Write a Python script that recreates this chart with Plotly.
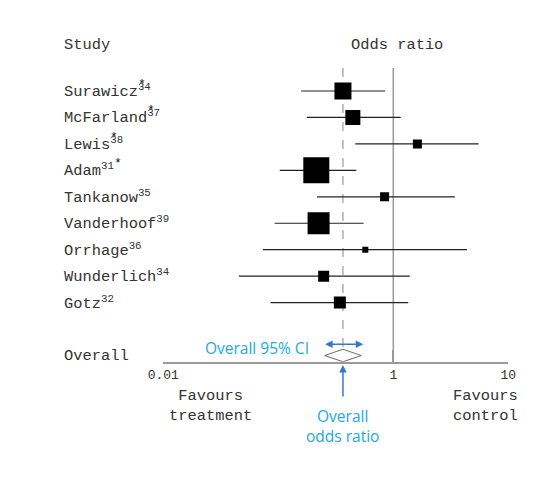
import numpy as np
import plotly.graph_objects as go

# study data
studies = ["Surawicz", "McFarland", "Lewis", "Adam", "Tankanow",
           "Vanderhoof", "Orrhage", "Wunderlich", "Gotz"]
refs = ["34", "37", "38", "31", "35", "39", "36", "34", "32"]
odds_ratio = [0.365, 0.445, 1.62, 0.214, 0.84, 0.224, 0.571, 0.248, 0.343]
ci_low = [0.158, 0.177, 0.467, 0.103, 0.217, 0.093, 0.0735, 0.0454, 0.0857]
ci_high = [0.85, 1.16, 5.52, 0.477, 3.43, 0.552, 4.37, 1.39, 1.35]
weight_px = [17, 15, 9, 26, 9, 22, 6, 11, 12]

overall_or = 0.365
overall_low = 0.253
overall_high = 0.527

tick_vals = [0.01, 1, 10]
tick_text = ["0.01", "1", "10"]

MONO = "Liberation Mono, Courier New, monospace"
SANS = "Open Sans, Noto Sans, sans-serif"
TXT = "#333333"
GREY = "#9a9a9a"
BLUE_TXT = "#22a7ea"
BLUE_ARR = "#3478c6"

# page offset (body margin) that the browser adds
OFF = 8


def px_x(x):
    return (x - OFF) / 540


def px_y(y):
    return 1 - (y - OFF) / 480


rows = list(range(len(studies)))
overall_row = 10
top_row = -0.87
axis_row = 10.235
half_h = 0.235
row_h = 26.45
row0_px = 91 - OFF
plot_bottom_px = 361.7 - OFF

fig = go.Figure()

# line of no effect
fig.add_trace(go.Scatter(x=[1, 1], y=[top_row, axis_row], mode="lines",
                         line=dict(color=GREY, width=1.5), hoverinfo="skip"))
# dashed line at the overall estimate
fig.add_trace(go.Scatter(x=[overall_or, overall_or], y=[top_row, overall_row - half_h],
                         mode="lines", line=dict(color=GREY, width=1.2, dash="dash"),
                         hoverinfo="skip"))

# study estimates with CIs
fig.add_trace(go.Scatter(
    x=odds_ratio, y=rows, mode="markers",
    marker=dict(symbol="square", size=weight_px, color="black", opacity=1,
                line=dict(width=0)),
    error_x=dict(type="data", symmetric=False,
                 array=[h - o for h, o in zip(ci_high, odds_ratio)],
                 arrayminus=[o - l for o, l in zip(odds_ratio, ci_low)],
                 color="#222222", thickness=1.2, width=0),
))

# overall diamond
fig.add_trace(go.Scatter(
    x=[overall_low, overall_or, overall_high, overall_or, overall_low],
    y=[overall_row, overall_row - half_h, overall_row, overall_row + half_h, overall_row],
    mode="lines", fill="toself", fillcolor="white",
    line=dict(color="#777777", width=1.2), hoverinfo="skip",
))

annotations = []


def label(text, x, y, xref="paper", yref="y", size=15.4, anchor="left", color=TXT, font=MONO):
    annotations.append(dict(text=text, x=x, y=y, xref=xref, yref=yref, showarrow=False,
                            xanchor=anchor, yanchor="middle",
                            font=dict(family=font, size=size, color=color)))


label("Study", px_x(62), -1.74)
label("Odds ratio", px_x(397), -1.74, anchor="center")
for r, (name, ref) in enumerate(zip(studies, refs)):
    label(f"{name}<sup>{ref}</sup>", px_x(62), r)
label("Overall", px_x(62), overall_row)

# stars marking some references (drawn over the reference numbers)
for sx, r in [(142, 0), (151, 1), (114, 2), (118, 3)]:
    label("*", px_x(sx), r - 0.25, size=13, anchor="center", color="#111111")

# labels under the axis
label("Favours<br>treatment", px_x(210), px_y(406), yref="paper", anchor="center")
label("Favours<br>control", px_x(485), px_y(406), yref="paper", anchor="center")

# blue callouts
label("Overall 95% CI", px_x(257), 9.7, anchor="center", size=15.5, color=BLUE_TXT, font=SANS)
annotations.append(dict(text="Overall<br>odds ratio", x=np.log10(overall_or), y=px_y(426),
                        xref="x", yref="paper", showarrow=False, xanchor="center",
                        yanchor="middle", font=dict(family=SANS, size=15.5, color=BLUE_TXT)))
annotations.append(dict(text="", x=np.log10(overall_or), y=px_y(365), xref="x",
                        yref="paper", ax=0, ay=33, showarrow=True, arrowhead=2,
                        arrowsize=1, arrowwidth=1.5, arrowcolor=BLUE_ARR))
annotations.append(dict(text="", x=np.log10(overall_high * 1.04), y=9.57,
                        ax=np.log10(overall_low * 0.98), ay=9.57,
                        xref="x", yref="y", axref="x", ayref="y",
                        showarrow=True, arrowhead=2, arrowside="end+start",
                        arrowsize=1, arrowwidth=1.5, arrowcolor=BLUE_ARR))

fig.update_layout(
    width=540, height=480,
    margin=dict(l=0, r=0, t=0, b=0, autoexpand=False),
    plot_bgcolor="white", paper_bgcolor="white",
    showlegend=False,
    annotations=annotations,
    xaxis=dict(type="log", range=[-2, 1], domain=[px_x(163.3), px_x(508.3)],
               automargin=False,
               showgrid=False, zeroline=False, showline=True, linecolor=GREY, linewidth=1.5,
               ticks="inside", ticklen=12, tickcolor=GREY, tickwidth=1.5,
               tickvals=tick_vals, ticktext=tick_text,
               tickfont=dict(family=MONO, size=13, color=TXT)),
    yaxis=dict(range=[(plot_bottom_px - row0_px) / row_h, -row0_px / row_h],
               domain=[1 - plot_bottom_px / 480, 1], visible=False, automargin=False),
)

fig.write_html("out.html")
